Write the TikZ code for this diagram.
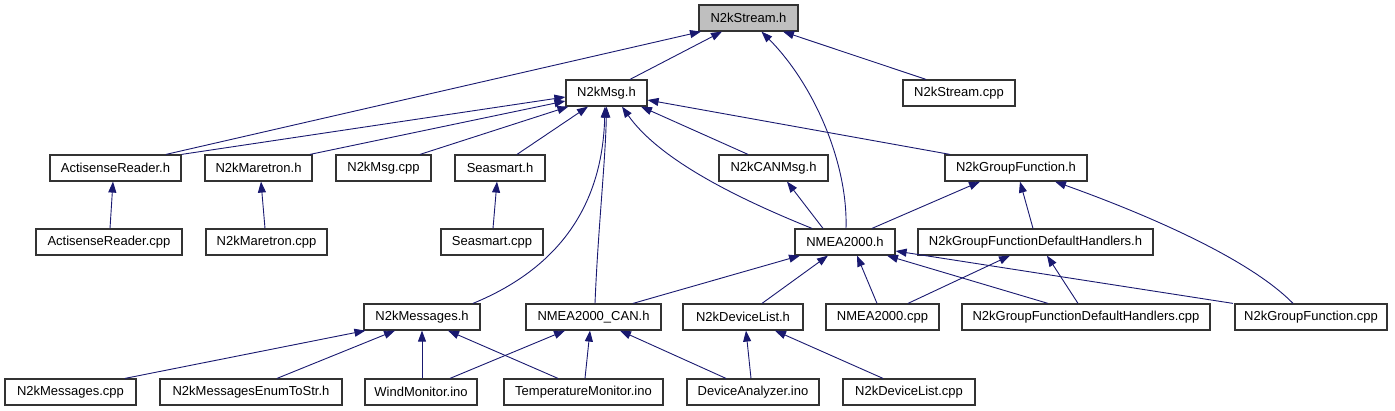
\documentclass[tikz,border=0pt]{standalone}
\usepackage{fontspec}
\setmainfont{Liberation Sans}
\usetikzlibrary{arrows.meta}
\definecolor{edgecol}{HTML}{191970}
\definecolor{boxline}{HTML}{333333}
\definecolor{rootfill}{HTML}{BFBFBF}
\tikzset{
  filebox/.style={draw=boxline, line width=1.2pt, fill=white, inner sep=0pt,
    minimum height=26pt, minimum width=#1, font=\fontsize{13}{15}\selectfont},
  rootbox/.style={filebox=#1, fill=rootfill},
  dep/.style={draw=edgecol, line width=0.9pt, -{Triangle[length=11pt,width=8pt]}},
}
\begin{document}
\begin{tikzpicture}[x=1pt,y=-1pt]
\useasboundingbox (0,0) rectangle (1395,411);
% row 0
\node[rootbox=99pt] (stream) at (748.5,18) {N2kStream.h};
% row 1
\node[filebox=81pt] (msg) at (606.5,93) {N2kMsg.h};
\node[filebox=112pt] (streamcpp) at (959,93) {N2kStream.cpp};
% row 2
\node[filebox=131pt] (arh) at (115.5,168) {ActisenseReader.h};
\node[filebox=107pt] (marh) at (258.5,168) {N2kMaretron.h};
\node[filebox=95pt] (msgcpp) at (383.5,168) {N2kMsg.cpp};
\node[filebox=90pt] (seah) at (500,168) {Seasmart.h};
\node[filebox=109pt] (canmsg) at (773.5,168) {N2kCANMsg.h};
\node[filebox=142pt] (gfh) at (1016,168) {N2kGroupFunction.h};
% row 3
\node[filebox=146pt] (arcpp) at (109,242) {ActisenseReader.cpp};
\node[filebox=121pt] (marcpp) at (266.5,242) {N2kMaretron.cpp};
\node[filebox=102pt] (seacpp) at (492,242) {Seasmart.cpp};
\node[filebox=100pt] (nmeah) at (845,242) {NMEA2000.h};
\node[filebox=235pt] (gfdhh) at (1035.5,242) {N2kGroupFunctionDefaultHandlers.h};
% row 4
\node[filebox=116pt] (msgsh) at (422,317) {N2kMessages.h};
\node[filebox=135pt] (can) at (593.5,317) {NMEA2000\_CAN.h};
\node[filebox=120pt] (dlh) at (743,317) {N2kDeviceList.h};
\node[filebox=113pt] (nmeacpp) at (882.5,317) {NMEA2000.cpp};
\node[filebox=248pt] (gfdhcpp) at (1086,317) {N2kGroupFunctionDefaultHandlers.cpp};
\node[filebox=152pt] (gfcpp) at (1311,317) {N2kGroupFunction.cpp};
% row 5
\node[filebox=131pt] (msgscpp) at (70.5,392) {N2kMessages.cpp};
\node[filebox=182pt] (enum) at (251,392) {N2kMessagesEnumToStr.h};
\node[filebox=112pt] (wind) at (421,392) {WindMonitor.ino};
\node[filebox=159pt] (temp) at (583.5,392) {TemperatureMonitor.ino};
\node[filebox=132pt] (deva) at (753,392) {DeviceAnalyzer.ino};
\node[filebox=132pt] (dlcpp) at (909,392) {N2kDeviceList.cpp};

% edges to N2kStream.h
\draw[dep] ([xshift=23.5pt]msg.north) -- ([xshift=-26.5pt]stream.south);
\draw[dep] ([xshift=50.5pt]arh.north) -- ([xshift=-47.5pt]stream.south);
\draw[dep] ([xshift=1pt]nmeah.north) .. controls +(2,-64) and +(53.5,54) .. ([xshift=13pt]stream.south);
\draw[dep] ([xshift=-33pt]streamcpp.north) -- ([xshift=34.5pt]stream.south);
% edges to N2kMsg.h
\draw[dep] (arh.north east) -- ([yshift=-4pt]msg.west);
\draw[dep] ([xshift=51.5pt]marh.north) -- ([yshift=-8pt]msg.west);
\draw[dep] ([xshift=36.5pt]msgcpp.north) -- ([xshift=3pt]msg.south west);
\draw[dep] ([xshift=17pt]seah.north) -- ([xshift=-18.5pt]msg.south);
\draw[dep] ([xshift=51pt]msgsh.north) .. controls +(107,-44) and +(-2,74) .. ([xshift=-1.5pt]msg.south);
\draw[dep] ([xshift=1.5pt]can.north) .. controls +(3,-74) and +(-1,54) .. (msg.south);
\draw[dep] ([xshift=-33pt]nmeah.north) .. controls +(-72,-29) and +(38,54) .. ([xshift=15.5pt]msg.south);
\draw[dep] ([xshift=-25.5pt]canmsg.north) -- ([xshift=34.5pt]msg.south);
\draw[dep] ([xshift=-66pt]gfh.north) -- ([yshift=-7pt]msg.east);
% row 3 -> row 2
\draw[dep] ([xshift=1pt]arcpp.north) -- ([xshift=-2.5pt]arh.south);
\draw[dep] ([xshift=-1.5pt]marcpp.north) -- ([xshift=2.5pt]marh.south);
\draw[dep] ([xshift=1pt]seacpp.north) -- ([xshift=-3pt]seah.south);
\draw[dep] ([xshift=-22pt]nmeah.north) -- ([xshift=13.5pt]canmsg.south);
\draw[dep] ([xshift=27pt]nmeah.north) -- ([xshift=-36pt]gfh.south);
\draw[dep] ([xshift=-2.5pt]gfdhh.north) -- ([xshift=4pt]gfh.south);
\draw[dep] ([xshift=-18pt]gfcpp.north) .. controls +(-43,-44) and +(95,34) .. ([xshift=39pt]gfh.south);
% row 4 -> row 3
\draw[dep] ([xshift=39.5pt]can.north) -- ([xshift=-45pt]nmeah.south);
\draw[dep] ([xshift=19pt]dlh.north) -- ([xshift=-17pt]nmeah.south);
\draw[dep] ([xshift=-5.5pt]nmeacpp.north) -- ([xshift=12pt]nmeah.south);
\draw[dep] ([xshift=-38pt]gfdhcpp.north) -- ([xshift=42pt]nmeah.south);
\draw[dep] ([xshift=-78pt]gfcpp.north) -- ([yshift=-9pt]nmeah.east);
\draw[dep] ([xshift=25.5pt]nmeacpp.north) -- ([xshift=-25.5pt]gfdhh.south);
\draw[dep] ([xshift=-8pt]gfdhcpp.north) -- ([xshift=11.5pt]gfdhh.south);
% row 5 -> row 4
\draw[dep] ([xshift=54.5pt]msgscpp.north) -- ([xshift=2pt]msgsh.south west);
\draw[dep] ([xshift=26pt]enum.north) -- ([xshift=-27pt]msgsh.south);
\draw[dep] ([xshift=1pt]wind.north) -- (msgsh.south);
\draw[dep] ([xshift=-25.5pt]temp.north) -- ([xshift=26pt]msgsh.south);
\draw[dep] ([xshift=29pt]wind.north) -- ([xshift=-28.5pt]can.south);
\draw[dep] ([xshift=1.5pt]temp.north) -- ([xshift=-3.5pt]can.south);
\draw[dep] ([xshift=-27pt]deva.north) -- ([xshift=26.5pt]can.south);
\draw[dep] ([xshift=-2pt]deva.north) -- ([xshift=3pt]dlh.south);
\draw[dep] ([xshift=-26pt]dlcpp.north) -- ([xshift=32pt]dlh.south);
\end{tikzpicture}
\end{document}
